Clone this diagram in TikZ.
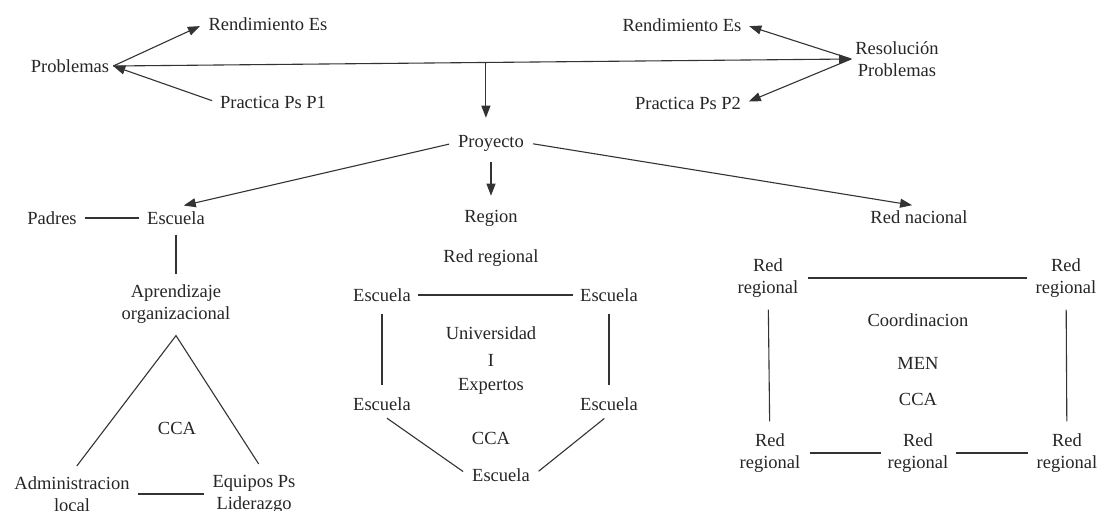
\documentclass[tikz,border=0pt]{standalone}
\usepackage{fontspec}
\setmainfont{Liberation Serif}
\usetikzlibrary{arrows.meta}
\begin{document}
\begin{tikzpicture}[x=1pt,y=-1pt,
  lbl/.style={inner sep=4pt, font=\fontsize{18.5}{22}\selectfont, text=black!85, align=center},
  ln/.style={line width=1.1pt, draw=black!80, line join=miter},
  arr/.style={ln, -{Triangle[length=12pt,width=9pt]}},
]
\useasboundingbox[fill=white] (0,0) rectangle (1101,511);
% top
\node[lbl] (prob) at (70,66) {Problemas};
\node[lbl] (rend1) at (268,24) {Rendimiento Es};
\node[lbl] (prac1) at (273,102) {Practica Ps P1};
\node[lbl] (rend2) at (682,25) {Rendimiento Es};
\node[lbl] (prac2) at (688,103) {Practica Ps P2};
\node[lbl] (reso) at (897,59) {Resolución\\Problemas};
\node[lbl] (proy) at (491,143) {Proyecto};
% second row
\node[lbl] (padres) at (52,218) {Padres};
\node[lbl] (esc1) at (176,218) {Escuela};
\node[lbl] (region) at (491,218) {Region};
\node[lbl] (rednac) at (919,217) {Red nacional};
% left group
\node[lbl] (aprend) at (176,304) {Aprendizaje\\organizacional};
\node[lbl] (cca1) at (177,428) {CCA};
\node[lbl] (admin) at (72,494) {Administracion\\local};
\node[lbl] (equip) at (254,494) {Equipos Ps\\Liderazgo};
% middle group
\node[lbl] (redreg) at (491,258) {Red regional};
\node[lbl] (etl) at (382,295) {Escuela};
\node[lbl] (etr) at (609,295) {Escuela};
\node[lbl] (univ) at (491,333) {Universidad};
\node[lbl] (sep) at (491,360) {I};
\node[lbl] (expert) at (491,386) {Expertos};
\node[lbl] (ebl) at (382,404) {Escuela};
\node[lbl] (ebr) at (609,404) {Escuela};
\node[lbl] (cca2) at (491,438) {CCA};
\node[lbl] (ebot) at (501,475) {Escuela};
% right group
\node[lbl] (rtl) at (768,278) {Red\\regional};
\node[lbl] (rtr) at (1066,278) {Red\\regional};
\node[lbl] (coord) at (918,320) {Coordinacion};
\node[lbl] (men) at (918,363) {MEN};
\node[lbl] (cca3) at (918,399) {CCA};
\node[lbl] (rbl) at (770,453) {Red\\regional};
\node[lbl] (rbm) at (918,453) {Red\\regional};
\node[lbl] (rbr) at (1067,453) {Red\\regional};
% arrows
\draw[arr, shorten >=5pt] (prob.east) -- (rend1.west);
\draw[arr, shorten <=4pt] (prac1.west) -- (prob.east);
\draw[arr] (prob.east) -- coordinate[pos=0.505] (m) (reso.west);
\draw[arr, shorten >=4pt] (reso.west) -- (rend2.east);
\draw[arr, shorten >=4pt] (reso.west) -- (prac2.east);
\draw[arr, shorten >=13pt] (m) -- (m |- proy.north);
\draw[arr, shorten <=5pt, shorten >=8pt] (proy.west) -- (esc1.north);
\draw[arr, shorten <=7pt, shorten >=10pt] (proy.south) -- (region.north);
\draw[arr, shorten <=5pt, shorten >=7pt] (proy.east) -- (rednac.north);
% lines
\draw[ln, shorten <=4pt, shorten >=4pt] (padres) -- (esc1);
\draw[ln, shorten <=6pt, shorten >=6pt] (esc1) -- (aprend);
\coordinate (apex) at ([yshift=-8pt]aprend.south);
\draw[ln, shorten <=8pt, shorten >=8pt] (admin.north) -- (apex) -- ([xshift=9pt]equip.north);
\draw[ln, shorten <=4pt, shorten >=4pt] (admin) -- (equip);
\draw[ln, shorten <=3pt, shorten >=3pt] (etl) -- (etr);
\draw[ln, shorten <=8pt, shorten >=8pt] (etl) -- (ebl);
\draw[ln, shorten <=8pt, shorten >=8pt] (etr) -- (ebr);
\draw[ln, shorten <=6pt, shorten >=6pt] (ebl.south) -- (ebot.west);
\draw[ln, shorten <=6pt, shorten >=6pt] (ebr.south) -- (ebot.east);
\draw[ln, shorten <=5pt, shorten >=5pt] (rtl) -- (rtr);
\draw[ln, shorten <=8pt, shorten >=8pt] (rtl) -- (rbl);
\draw[ln, shorten <=8pt, shorten >=8pt] (rtr) -- (rbr);
\draw[ln, shorten <=5pt, shorten >=3pt] (rbl) -- (rbm);
\draw[ln, shorten <=3pt, shorten >=5pt] (rbm) -- (rbr);
\end{tikzpicture}
\end{document}
